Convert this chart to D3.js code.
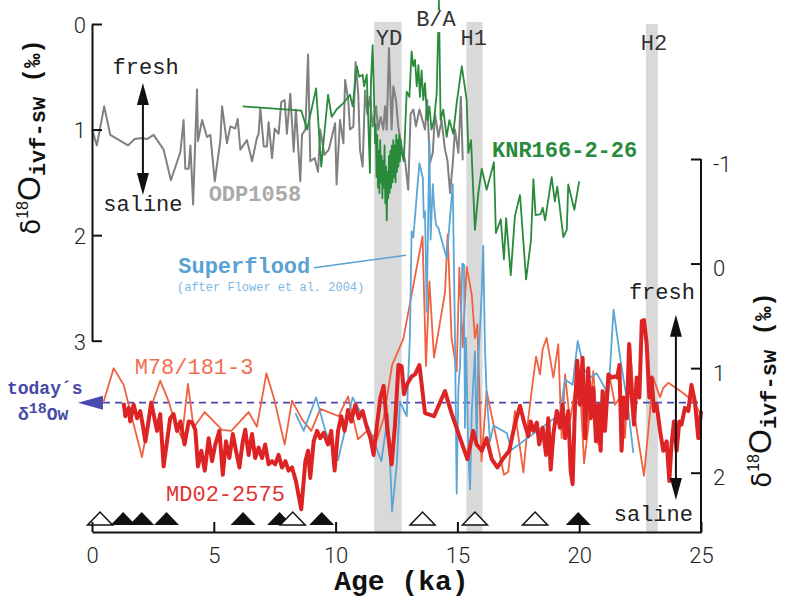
<!DOCTYPE html>
<html>
<head>
<meta charset="utf-8">
<script src="https://cdn.jsdelivr.net/npm/d3@7"></script>
<style>
body { margin: 0; background: #fff; }
svg { display: block; }
</style>
</head>
<body>
<script>
// ---- data (age in ka, d18O ivf-sw in permil) ----
var odp1058 = [[0,1.0],[0.2,1.15],[0.5,0.78],[0.75,1.05],[1.48,1.15],[1.75,1.09],[2.05,1.08],[2.26,1.09],[2.53,1.05],[2.94,1.19],[3.24,1.48],[3.63,1.21],[3.76,0.91],[3.83,1.37],[3.97,1.37],[4.04,1.15],[4.15,1.71],[4.31,0.62],[4.35,1.11],[4.52,0.91],[4.72,1.07],[4.86,1.05],[5.04,1.49],[5.27,1.10],[5.34,0.78],[5.54,1.13],[5.68,0.97],[5.88,0.99],[5.98,0.90],[6.09,1.19],[6.36,1.10],[6.57,1.30],[6.77,1.08],[6.84,1.04],[6.91,0.80],[7.05,1.16],[7.18,1.16],[7.25,0.93],[7.39,1.27],[7.50,0.99],[7.66,1.04],[7.77,0.74],[7.91,0.72],[8.0,1.04],[8.14,0.66],[8.28,1.21],[8.37,0.81],[8.55,1.49],[8.62,1.05],[8.76,1.0],[8.87,0.29],[8.96,1.30],[9.14,1.27],[9.28,1.40],[9.37,1.0],[9.54,1.24],[9.72,1.19],[9.98,0.94],[10.04,1.52],[10.18,0.91],[10.32,1.13],[10.39,0.53],[10.52,0.72],[10.59,1.0],[10.73,0.97],[10.82,0.36],[10.93,0.66],[11.0,1.19],[11.11,1.35],[11.21,0.63],[11.30,0.85],[11.41,0.69],[11.52,0.97],[11.66,0.78],[11.75,1.0],[11.85,0.88],[11.96,1.0],[12.03,0.78],[12.10,1.0],[12.19,0.23],[12.30,1.0],[12.37,0.59],[12.48,0.72],[12.57,0.97],[12.71,1.16],[12.85,1.29],[12.98,1.57],[13.08,0.85],[13.19,0.81],[13.30,0.97],[13.44,0.81],[13.53,0.88],[13.67,1.0],[13.76,0.72],[13.87,1.32],[13.99,1.22],[14.08,0.85],[14.22,1.07],[14.35,0.91],[14.49,1.19],[14.59,1.29],[14.70,1.60],[14.81,1.32],[14.90,1.0],[15.04,1.22],[15.14,0.69],[15.22,1.29]];

var knr166 = [[6.19,0.78],[8.59,0.82],[8.83,1.0],[9.20,0.61],[9.41,1.35],[9.69,0.67],[9.84,0.88],[10.04,0.81],[10.32,0.75],[10.59,0.67],[10.70,0.78],[10.87,0.40],[10.97,0.50],[11.11,0.48],[11.17,0.59],[11.28,0.48],[11.41,1.41],[11.45,0.56],[11.52,0.20],[11.58,0.72],[11.62,1.13],[11.65,0.95],[11.68,1.45],[11.71,1.05],[11.74,1.55],[11.77,1.2],[11.80,1.6],[11.83,1.1],[11.86,1.5],[11.89,1.25],[11.92,1.65],[11.95,1.3],[11.98,1.55],[12.01,1.15],[12.04,1.7],[12.07,1.35],[12.10,1.86],[12.13,1.4],[12.16,1.65],[12.19,1.25],[12.22,1.6],[12.25,1.2],[12.28,1.55],[12.31,1.15],[12.34,1.5],[12.37,1.1],[12.40,1.45],[12.43,1.15],[12.46,1.5],[12.49,1.05],[12.52,1.4],[12.55,1.1],[12.58,1.35],[12.61,1.05],[12.64,1.3],[12.67,1.1],[12.70,1.2],[12.80,1.3],[12.92,0.64],[13.03,0.69],[13.12,0.26],[13.19,0.40],[13.26,0.34],[13.33,0.59],[13.40,0.39],[13.46,0.69],[13.53,0.44],[13.60,0.72],[13.67,0.56],[13.76,0.91],[13.85,0.78],[13.94,1.0],[14.04,0.91],[14.15,0.66],[14.24,-0.22],[14.31,0.91],[14.42,0.81],[14.56,1.07],[14.67,0.91],[14.83,1.04],[14.97,0.75],[15.18,0.40],[15.38,0.72],[15.45,1.22],[15.56,1.10],[15.72,1.95],[15.86,1.60],[16.0,1.37],[16.20,1.57],[16.50,1.31],[16.58,1.98],[16.78,1.85],[16.91,2.23],[17.0,1.84],[17.19,2.38],[17.36,1.82],[17.57,1.62],[17.82,2.42],[18.02,2.05],[18.12,1.47],[18.21,1.81],[18.42,1.80],[18.50,1.74],[18.60,1.86],[18.87,1.45],[19.0,1.68],[19.10,1.54],[19.35,2.02],[19.49,1.95],[19.55,1.52],[19.80,1.76],[20.0,1.49]];

var superflood = [[8.35,1.43],[8.69,1.60],[9.20,1.28],[9.58,1.60],[10.10,1.88],[10.70,1.28],[11.36,1.57],[11.88,1.89],[12.15,1.44],[12.32,2.37],[12.51,1.92],[12.64,1.32],[12.92,1.46],[13.05,0.7],[13.12,-0.31],[13.19,-0.25],[13.44,-0.96],[13.58,-0.82],[13.62,-0.44],[13.67,-0.50],[13.74,0.46],[13.85,-1.17],[13.90,-0.23],[13.99,-0.76],[14.04,-0.56],[14.12,-0.37],[14.22,-0.34],[14.56,-0.05],[14.81,-0.76],[14.90,0.71],[14.97,2.2],[15.04,1.2],[15.11,0.97],[15.20,0.0],[15.27,0.01],[15.31,1.57],[15.35,0.71],[15.45,1.8],[15.52,2.16],[15.59,1.41],[15.72,0.84],[15.79,1.73],[15.86,0.9],[15.93,0.61],[16.0,0.26],[16.06,-0.17],[16.13,0.8],[16.2,1.25],[16.34,1.70],[16.48,1.55],[17.02,1.62],[17.23,1.78],[19.21,1.44],[19.42,1.11],[19.73,1.16],[19.94,0.74],[20.2,1.01],[20.44,1.09],[20.72,1.05],[21.2,1.25],[21.41,0.44],[21.7,0.93],[22.0,1.36],[22.22,1.81]];

var m78181 = [[0.48,1.32],[0.89,1.0],[1.30,1.16],[2.05,1.85],[2.46,1.35],[2.80,1.12],[3.15,1.32],[3.42,1.54],[3.69,1.67],[3.94,1.15],[4.17,1.57],[4.63,1.42],[5.34,1.59],[5.72,1.60],[6.43,1.42],[6.77,1.56],[7.16,1.05],[7.46,1.28],[7.91,1.73],[8.21,1.31],[8.62,1.49],[9.0,1.60],[9.37,1.39],[10.13,1.46],[10.51,1.27],[10.92,1.68],[11.29,1.60],[11.70,1.68],[11.97,1.48],[12.32,0.97],[12.78,0.72],[13.57,-0.26],[13.71,0.98],[13.85,0.17],[14.04,0.90],[14.49,0.28],[14.60,-0.28],[14.76,0.71],[14.97,1.03],[15.08,0.04],[15.22,0.80],[15.38,0.03],[15.59,0.30],[15.72,0.71],[15.82,0.58],[15.99,1.89],[16.2,1.22],[16.91,2.02],[17.09,1.99],[17.36,1.41],[17.71,2.0],[17.91,1.48],[18.08,1.16],[18.23,0.89],[18.39,1.06],[18.50,0.82],[18.66,0.71],[18.80,0.90],[18.94,1.09],[19.14,0.77],[19.28,1.67],[19.42,1.06],[19.62,1.51],[19.82,1.22],[20.03,1.16],[20.2,1.91],[20.37,1.57],[20.58,1.03],[20.78,1.73],[21.02,1.28],[21.26,1.09],[21.47,1.35],[21.67,1.28],[21.88,1.67],[22.09,0.77],[22.29,1.48],[22.66,2.03],[23.04,1.09],[23.32,1.28],[23.45,1.19],[23.66,1.14],[24.28,1.24],[24.69,1.32],[25.0,1.44]];

var md022575 = [[1.30,1.33],[1.37,1.46],[1.51,1.38],[1.57,1.51],[1.71,1.35],[1.85,1.48],[1.98,1.41],[2.08,1.54],[2.19,1.70],[2.30,1.54],[2.43,1.33],[2.53,1.44],[2.67,1.60],[2.80,1.44],[2.94,1.94],[3.08,1.70],[3.21,1.48],[3.35,1.44],[3.49,1.60],[3.63,1.51],[3.80,1.73],[3.97,1.51],[4.11,1.52],[4.24,1.59],[4.35,1.94],[4.49,1.79],[4.63,1.98],[4.79,1.67],[4.93,1.89],[5.06,1.73],[5.23,1.60],[5.37,2.02],[5.50,1.70],[5.64,1.86],[5.78,1.63],[5.91,1.79],[6.05,1.95],[6.19,1.70],[6.29,1.59],[6.43,1.83],[6.57,1.63],[6.70,1.86],[6.84,1.76],[6.98,1.86],[7.11,1.73],[7.25,1.92],[7.39,1.89],[7.52,1.92],[7.66,1.83],[7.80,1.95],[7.94,1.89],[8.07,1.98],[8.21,1.95],[8.37,2.08],[8.59,2.35],[8.76,1.89],[8.87,1.79],[8.96,2.05],[9.10,1.70],[9.24,1.60],[9.37,1.67],[9.51,1.62],[9.69,1.73],[9.82,1.60],[9.96,1.98],[10.10,1.60],[10.23,1.46],[10.37,1.60],[10.51,1.40],[10.64,1.51],[10.81,1.35],[10.95,1.48],[11.11,1.41],[11.25,1.54],[11.43,1.67],[11.56,1.83],[11.70,1.54],[11.84,1.28],[11.97,1.17],[12.12,1.57],[12.30,1.92],[12.44,1.54],[12.58,0.97],[12.71,0.98],[12.81,1.25],[12.92,1.16],[13.12,1.08],[13.26,1.06],[13.44,0.97],[13.67,1.43],[14.04,1.46],[14.49,1.22],[14.77,1.44],[15.11,1.67],[15.41,1.87],[15.65,1.60],[15.79,1.73],[16.0,1.79],[16.20,1.67],[16.41,1.87],[16.64,1.95],[16.86,1.87],[17.13,1.79],[17.30,1.60],[17.43,1.48],[17.57,1.36],[17.73,1.51],[17.91,1.65],[18.01,1.51],[18.12,1.60],[18.26,1.52],[18.36,1.73],[18.50,1.57],[18.64,1.83],[18.73,1.48],[18.83,1.97],[18.94,1.63],[19.08,1.41],[19.21,1.57],[19.32,1.35],[19.42,1.67],[19.55,1.41],[19.65,1.98],[19.73,2.11],[19.82,1.41],[19.92,0.93],[20.03,1.35],[20.14,0.90],[20.24,1.67],[20.37,1.00],[20.47,1.48],[20.58,1.19],[20.69,1.70],[20.78,1.35],[20.88,1.79],[20.96,1.22],[21.06,1.60],[21.2,1.06],[21.33,1.09],[21.47,1.08],[21.56,1.09],[21.65,0.97],[21.74,1.79],[21.83,1.28],[21.95,1.48],[22.05,0.77],[22.15,1.25],[22.25,1.54],[22.36,1.09],[22.47,1.28],[22.57,0.55],[22.66,0.54],[22.77,0.77],[22.88,1.28],[22.97,1.09],[23.07,1.41],[23.18,1.35],[23.32,1.60],[23.45,1.79],[23.59,1.70],[23.70,2.08],[23.79,1.73],[23.89,1.51],[24.0,1.79],[24.11,1.51],[24.20,1.54],[24.34,1.38],[24.48,1.41],[24.61,1.16],[24.75,1.32],[24.89,1.67],[25.0,1.41]];

// cold events (start, end, top in left-axis units)
var events = [["YD",11.58,12.71,-0.02],["H1",15.37,16.03,-0.02],["H2",22.74,23.23,0]];
var eventLabels = [["YD",12.19,0.2],["B/A",14.12,0.02],["H1",15.67,0.2],["H2",23.07,0.25]];

// age-control triangles
var filledTri = [1.28,2.04,3.06,6.2,7.7,9.43,19.96];
var openTri = [0.33,8.24,13.57,15.72,18.19];

var todayValue = 1.33;
var xTicks = [0,5,10,15,20,25];
var leftTicks = [0,1,2,3];
var rightTicks = [-1,0,1,2];

// ---- layout ----
var width = 786, height = 605;
var axisY = 532;
var mono = "'Liberation Mono','DejaVu Sans Mono',monospace";
var sans = "Roboto,'Liberation Sans',sans-serif";

var x = d3.scaleLinear().domain([0,25]).range([92,701]);
var yL = d3.scaleLinear().domain([0,3]).range([24,340.7]);
var yR = d3.scaleLinear().domain([-1,2]).range([159,472.7]);

var svg = d3.select("body").append("svg")
    .attr("width", width)
    .attr("height", height);

// grey bands
svg.selectAll(".band").data(events).enter().append("rect")
    .attr("class","band")
    .attr("x", function(d){ return x(d[1]); })
    .attr("width", function(d){ return x(d[2]) - x(d[1]); })
    .attr("y", function(d){ return yL(d[3]); })
    .attr("height", function(d){ return axisY - yL(d[3]); })
    .style("fill","#d9d9d9");

var lineL = d3.line().x(function(d){ return x(d[0]); }).y(function(d){ return yL(d[1]); });
var lineR = d3.line().x(function(d){ return x(d[0]); }).y(function(d){ return yR(d[1]); });

function drawSeries(data, line, color, w){
    svg.append("path").datum(data)
        .attr("d", line)
        .style("fill","none")
        .style("stroke", color)
        .style("stroke-width", w)
        .style("stroke-linejoin","round");
}

// today's line
svg.append("line")
    .attr("x1", x(0.45)).attr("x2", x(25))
    .attr("y1", yR(todayValue)).attr("y2", yR(todayValue))
    .style("stroke","#4a4aae")
    .style("stroke-width",1.6)
    .style("stroke-dasharray","7,5");
svg.append("path")
    .attr("d", "M"+x(-0.58)+","+yR(todayValue)+"L"+x(0.45)+","+(yR(todayValue)-7)+"L"+x(0.45)+","+(yR(todayValue)+7)+"Z")
    .style("fill","#4a4aae");

drawSeries(odp1058, lineL, "#808080", 2);
drawSeries(knr166, lineL, "#2a8a3c", 1.8);
drawSeries(m78181, lineR, "#f0623f", 1.8);
drawSeries(superflood, lineR, "#5ba6d6", 1.8);
drawSeries(md022575, lineR, "#dd2323", 4);

// event labels
svg.selectAll(".evt").data(eventLabels).enter().append("text")
    .attr("class","evt")
    .attr("x", function(d){ return x(d[1]); })
    .attr("y", function(d){ return yL(d[2]); })
    .attr("text-anchor","middle")
    .style("font-family", mono)
    .style("font-size","22px")
    .style("fill","#333")
    .text(function(d){ return d[0]; });
// white box behind B/A
var ba = svg.selectAll(".evt").filter(function(d){ return d[0] == "B/A"; });
var bb = ba.node().getBBox();
svg.append("rect")
    .attr("x", bb.x - 1).attr("y", bb.y + 2)
    .attr("width", bb.width + 2).attr("height", bb.height - 3)
    .style("fill","#fff");
ba.raise();

// triangles
function tri(d){
    var cx = x(d);
    return "M"+(cx-12.5)+",525L"+cx+",512L"+(cx+12.5)+",525Z";
}
svg.selectAll(".ftri").data(filledTri).enter().append("path")
    .attr("d", tri).style("fill","#111");
svg.selectAll(".otri").data(openTri).enter().append("path")
    .attr("d", tri).style("fill","#fff").style("stroke","#111").style("stroke-width",1.5);

// axes
var xAxis = d3.axisBottom(x).tickValues(xTicks).tickSize(-10).tickSizeOuter(0).tickPadding(15);
var gx = svg.append("g").attr("transform","translate(0,"+axisY+")").call(xAxis);

var leftAxis = d3.axisLeft(yL).tickValues(leftTicks).tickSize(-10).tickSizeOuter(0).tickPadding(6)
    .tickFormat(d3.format("d"));
var gl = svg.append("g").attr("transform","translate("+x(0)+",0)").call(leftAxis);
gl.selectAll("text").attr("dy","0.38em");

var rightAxis = d3.axisRight(yR).tickValues(rightTicks).tickSize(-10).tickSizeOuter(0).tickPadding(12)
    .tickFormat(function(d){ return d < 0 ? "-" + (-d) : d; });
var gr = svg.append("g").attr("transform","translate("+x(25)+",0)").call(rightAxis);
gr.select(".domain").remove();
gr.selectAll("text").attr("dy","0.55em");
svg.append("line")
    .attr("x1", x(25)).attr("x2", x(25))
    .attr("y1", yR(-1)).attr("y2", axisY + 1)
    .style("stroke","#111").style("stroke-width",2);

[gx, gl, gr].forEach(function(g){
    g.selectAll("path, line").style("stroke","#111").style("stroke-width",2);
    g.selectAll("text").style("font-family", sans).style("font-weight",300)
        .style("font-size","22px").style("fill","#222");
});

svg.append("text")
    .attr("x", x(12.7)).attr("y", 590)
    .attr("text-anchor","middle")
    .style("font-family", mono).style("font-weight","bold").style("font-size","28px")
    .style("fill","#111")
    .text("Age (ka)");

// axis titles
function axisLabel(cx, cy){
    var t = svg.append("text")
        .attr("transform","translate("+cx+","+cy+") rotate(-90)")
        .attr("text-anchor","middle")
        .style("fill","#111");
    t.append("tspan").style("font-family","'DejaVu Sans'").style("font-size","26px").text("δ");
    t.append("tspan").style("font-family","'Liberation Sans'").style("font-size","16px").attr("dy",-12).text("18");
    t.append("tspan").style("font-family","'Liberation Sans'").style("font-size","32px").attr("dy",12).text("O");
    t.append("tspan").style("font-family",mono).style("font-weight","bold").style("font-size","22px").attr("dy",5).text("ivf-sw");
    t.append("tspan").style("font-family",mono).style("font-weight","bold").style("font-size","24px").attr("dy",-5).text(" (‰)");
}
axisLabel(40, 137);
axisLabel(771, 390);

// series labels
function label(txt, xv, yv, color, opts){
    opts = opts || {};
    return svg.append("text")
        .attr("x", x(xv)).attr("y", yv)
        .attr("text-anchor", opts.anchor || "start")
        .style("font-family", mono)
        .style("font-weight", opts.bold ? "bold" : "normal")
        .style("font-size", (opts.size || 22) + "px")
        .style("fill", color)
        .text(txt);
}
label("KNR166-2-26", 16.42, yL(1.26), "#2a8a3c", {bold:true});
label("ODP1058", 4.79, yL(1.68), "#aaaaaa", {bold:true});
label("Superflood", 3.54, yR(0.09), "#5aa2d4", {bold:true});
label("(after Flower et al.  2004)", 3.49, yR(0.26), "#7db6df", {size:12});
label("M78/181-3", 1.75, yR(1.06), "#f26e50");
label("MD02-2575", 3.04, yR(2.27), "#e03434");
label("today\u00b4s", -3.49, yR(1.25), "#4848a8", {bold:true, size:18});
var tw = label("\u03b4", -3.04, yR(1.5), "#4848a8", {bold:true, size:18});
tw.append("tspan").attr("dy",-7).style("font-size","15px").text("18");
tw.append("tspan").attr("dy",7).text("Ow");

// superflood pointer
svg.append("line")
    .attr("x1", x(9.11)).attr("y1", yR(0.04))
    .attr("x2", x(12.89)).attr("y2", yR(-0.08))
    .style("stroke","#5aa2d4").style("stroke-width",1.5);

// fresh / saline arrows
function dblArrow(xv, y1, y2){
    var cx = x(xv);
    svg.append("line").attr("x1",cx).attr("x2",cx).attr("y1",y1+10).attr("y2",y2-10)
        .style("stroke","#111").style("stroke-width",2);
    svg.append("path").attr("d","M"+cx+","+y1+"L"+(cx-6)+","+(y1+22)+"L"+(cx+6)+","+(y1+22)+"Z").style("fill","#111");
    svg.append("path").attr("d","M"+cx+","+y2+"L"+(cx-6)+","+(y2-22)+"L"+(cx+6)+","+(y2-22)+"Z").style("fill","#111");
}
dblArrow(2.09, yL(0.56), yL(1.62));
dblArrow(23.97, yR(0.49), yR(2.26));
label("fresh", 2.2, yL(0.47), "#222", {anchor:"middle"});
label("saline", 2.09, yL(1.77), "#222", {anchor:"middle"});
label("fresh", 24.75, yR(0.34), "#222", {anchor:"end"});
label("saline", 24.67, yR(2.46), "#222", {anchor:"end"});
</script>
</body>
</html>
